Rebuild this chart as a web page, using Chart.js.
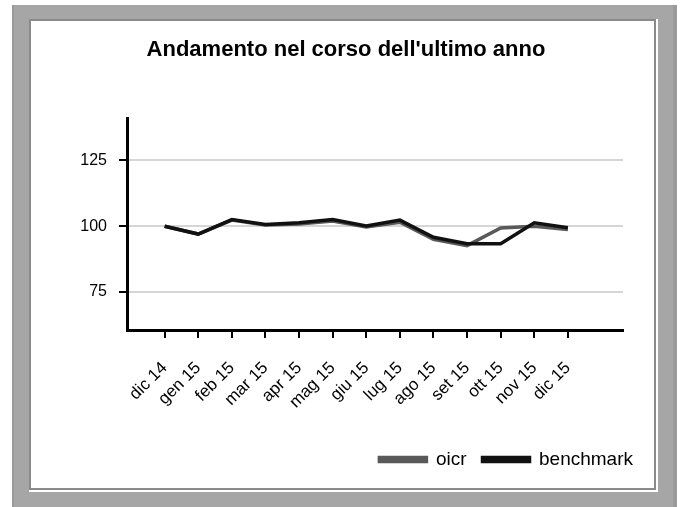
<!DOCTYPE html>
<html lang="it">
<head>
<meta charset="UTF-8">
<title>Andamento nel corso dell'ultimo anno</title>
<script src="https://cdn.jsdelivr.net/npm/chart.js"></script>
<style>
  html, body { margin: 0; padding: 0; background: #fff; width: 680px; height: 507px; overflow: hidden; }
  .outer { position: absolute; left: 12px; top: 5px; width: 659px; height: 520px; background: #a6a6a6; border-left: 2px solid #999; border-right: 4px solid #9a9a9a; }
  .inner { position: absolute; left: 29px; top: 19px; width: 623px; height: 467px; background: #fff; border: 2px solid #8a8a8a; box-shadow: 1px 1px 0 1px #fff; }
  canvas { position: absolute; left: 0; top: 0; }
</style>
</head>
<body>
<div class="outer"></div>
<div class="inner"></div>
<canvas id="chart" width="680" height="507"></canvas>
<script>
// months shown on the x axis
const categories = ['dic 14', 'gen 15', 'feb 15', 'mar 15', 'apr 15', 'mag 15', 'giu 15',
                    'lug 15', 'ago 15', 'set 15', 'ott 15', 'nov 15', 'dic 15'];
const oicr      = [100, 97.0, 102.3, 100.4, 100.8, 102.0, 99.7, 101.5, 95.0, 92.6, 99.3, 100.0, 98.7];
const benchmark = [100, 97.0, 102.5, 100.6, 101.3, 102.5, 100.1, 102.3, 95.8, 93.3, 93.3, 101.3, 99.4];
const yTicks = [75, 100, 125];

const toPoints = arr => arr.map((v, i) => ({ x: i, y: v }));

// title and legend are not centred on the plot area in the original
const shiftBoxes = {
  id: 'shiftBoxes',
  afterUpdate(chart) {
    const l = chart.legend;
    l.left += 26;
    l.right += 26;
    l.adjustHitBoxes();
    chart.titleBlock.left += 69;
  }
};

new Chart(document.getElementById('chart'), {
  type: 'line',
  data: {
    datasets: [
      { label: 'oicr', data: toPoints(oicr), borderColor: '#595959', backgroundColor: '#595959',
        borderWidth: 3.5, pointRadius: 0, tension: 0, order: 1 },
      { label: 'benchmark', data: toPoints(benchmark), borderColor: '#111', backgroundColor: '#111',
        borderWidth: 3.5, pointRadius: 0, tension: 0, order: 0 }
    ]
  },
  options: {
    responsive: false,
    animation: false,
    layout: { padding: { left: 0, right: 57, top: 0, bottom: 28 } },
    plugins: {
      title: {
        display: true,
        text: "Andamento nel corso dell'ultimo anno",
        color: '#000',
        font: { family: 'Liberation Sans, Arial, sans-serif', size: 22, weight: 'bold' },
        padding: { top: 37, bottom: 55 }
      },
      legend: {
        position: 'bottom',
        align: 'end',
        labels: {
          color: '#000',
          font: { family: 'Liberation Sans, Arial, sans-serif', size: 19 },
          boxWidth: 47,
          boxHeight: 4,
          padding: 16,
          sort: (a, b) => a.datasetIndex - b.datasetIndex
        }
      },
      tooltip: { enabled: false }
    },
    scales: {
      x: {
        type: 'linear',
        min: -1.12,
        max: 13.64,
        afterBuildTicks: s => { s.ticks = categories.map((c, i) => ({ value: i })); },
        afterFit: s => { s.height = 104; },
        border: { display: true, color: '#000', width: 3 },
        grid: { drawOnChartArea: false, color: '#000', tickColor: '#000', tickLength: 8, lineWidth: 2 },
        ticks: {
          color: '#000',
          autoSkip: false,
          minRotation: 45,
          maxRotation: 45,
          padding: 20,
          font: { family: 'Liberation Sans, Arial, sans-serif', size: 17 },
          callback: v => categories[v]
        }
      },
      y: {
        min: 60.5,
        max: 141,
        afterBuildTicks: s => { s.ticks = yTicks.map(v => ({ value: v })); },
        afterFit: s => { s.width = 127; },
        border: { display: true, color: '#000', width: 3 },
        grid: { color: '#d6d6d6', lineWidth: 2, tickColor: '#000', tickLength: 8 },
        ticks: {
          color: '#000',
          padding: 12,
          font: { family: 'Liberation Sans, Arial, sans-serif', size: 16 }
        }
      }
    }
  },
  plugins: [shiftBoxes]
});
</script>
</body>
</html>
